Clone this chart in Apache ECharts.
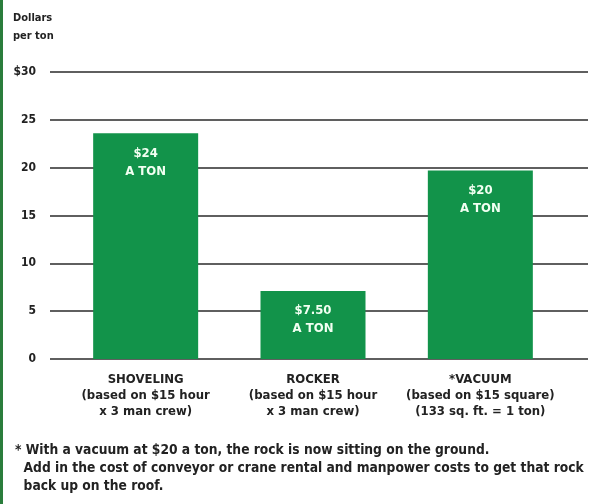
<!DOCTYPE html>
<html>
<head>
<meta charset="utf-8">
<script src="https://cdn.jsdelivr.net/npm/echarts@6/dist/echarts.min.js"></script>
<style>
html,body{margin:0;padding:0;background:#fff;}
#c{width:598px;height:504px;}
</style>
</head>
<body>
<div id="c"></div>
<script>
const categories = ['SHOVELING', 'ROCKER', '*VACUUM'];
const subNotes = ['(based on $15 hour\nx 3 man crew)', '(based on $15 hour\nx 3 man crew)', '(based on $15 square)\n(133 sq. ft. = 1 ton)'];
const costPerTon = [23.6, 7.1, 19.7];
const barLabels = ['$24\nA TON', '$7.50\nA TON', '$20\nA TON'];
const yTickValues = [0, 5, 10, 15, 20, 25, 30];
const titleText = 'COST COMPARISON';
const yAxisTitle = 'Dollars\nper ton';
const footnote = '* With a vacuum at $20 a ton, the rock is now sitting on the ground.\n  Add in the cost of conveyor or crane rental and manpower costs to get that rock\n  back up on the roof.';

const FONT = '"DejaVu Sans Condensed", "Liberation Sans Narrow", sans-serif';
const GREEN = '#12934a';

const chart = echarts.init(document.getElementById('c'));
chart.setOption({
  animation: false,
  backgroundColor: '#ffffff',
  grid: [
    {left: 50, right: 10, top: 72, bottom: 145},
    {left: 62, right: 34, top: 72, bottom: 145}
  ],
  xAxis: [
    {gridIndex: 0, type: 'value', show: false, min: 0, max: 1},
    {
      gridIndex: 1, type: 'category', data: categories,
      axisLine: {show: false}, axisTick: {show: false},
      axisLabel: {
        margin: 13, interval: 0,
        formatter: (v, i) => '{h|' + v + '}\n{s|' + subNotes[i] + '}',
        rich: {
          h: {fontFamily: FONT, fontWeight: 'bold', fontSize: 13, color: '#222', lineHeight: 16},
          s: {fontFamily: FONT, fontWeight: 'bold', fontSize: 13, color: '#222', lineHeight: 16}
        }
      }
    }
  ],
  yAxis: [
    {
      gridIndex: 0, type: 'value', min: 0, max: 30, interval: 5,
      axisLine: {show: false}, axisTick: {show: false},
      axisLabel: {
        margin: 14, fontFamily: FONT, fontWeight: 'bold', fontSize: 12, color: '#222',
        formatter: v => (yTickValues.indexOf(v) >= 0 ? (v === 30 ? '$' + v : '' + v) : '')
      },
      splitLine: {show: true, lineStyle: {color: '#2a2a2a', width: 1.5}}
    },
    {gridIndex: 1, type: 'value', min: 0, max: 30, interval: 5, show: false, splitLine: {show: false}}
  ],
  series: [{
    type: 'bar', xAxisIndex: 1, yAxisIndex: 1,
    data: costPerTon.map((v, i) => ({value: v, label: {formatter: barLabels[i]}})),
    barWidth: 105,
    itemStyle: {color: GREEN},
    label: {
      show: true, position: 'insideTop', distance: 11,
      fontFamily: FONT, fontWeight: 'bold', fontSize: 13, color: '#f2fff2', lineHeight: 18
    },
    z: 3
  }],
  graphic: [
    {type: 'rect', left: 0, top: 0, shape: {width: 3, height: 504}, style: {fill: '#2a7d3c'}},
    {type: 'text', left: 'center', top: -24, style: {text: titleText, fontFamily: FONT, fontWeight: 'bold', fontSize: 30, fill: '#c6ecc8'}},
    {type: 'text', left: 13, top: 9, style: {text: yAxisTitle, fontFamily: FONT, fontWeight: 'bold', fontSize: 11, lineHeight: 18, fill: '#222'}},
    {type: 'text', left: 15, top: 441, style: {text: footnote, fontFamily: FONT, fontWeight: 'bold', fontSize: 13.7, lineHeight: 18, fill: '#222'}}
  ]
});
</script>
</body>
</html>
